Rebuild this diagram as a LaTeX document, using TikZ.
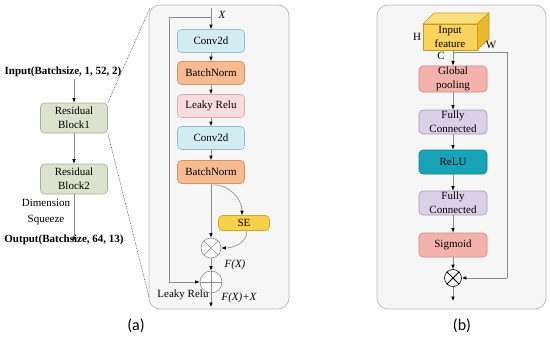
\documentclass[tikz,border=0pt]{standalone}
\usepackage{fontspec}
\setmainfont{Liberation Serif}
\newfontfamily\capfont{Carlito}
\usetikzlibrary{arrows.meta,calc}
\definecolor{panelbg}{HTML}{F6F6F6}
\definecolor{panelbd}{HTML}{B8B8B8}
\definecolor{linegray}{HTML}{8A8A8A}
\definecolor{resfill}{HTML}{DCE2CD}
\definecolor{resbd}{HTML}{A7B08E}
\definecolor{convfill}{HTML}{D3ECF1}
\definecolor{convbd}{HTML}{8CC0CC}
\definecolor{bnfill}{HTML}{F7BB91}
\definecolor{bnbd}{HTML}{D8925E}
\definecolor{lrfill}{HTML}{F8DCDD}
\definecolor{lrbd}{HTML}{D8AEB1}
\definecolor{sefill}{HTML}{F8D14A}
\definecolor{sebd}{HTML}{D7A81E}
\definecolor{gpfill}{HTML}{F4B2AC}
\definecolor{gpbd}{HTML}{CF8C86}
\definecolor{fcfill}{HTML}{DAD0E7}
\definecolor{fcbd}{HTML}{A99BB9}
\definecolor{relufill}{HTML}{17A3B8}
\definecolor{relubd}{HTML}{10808F}
\definecolor{cubefront}{HTML}{F9D35C}
\definecolor{cubetop}{HTML}{FBDF7C}
\definecolor{cubeside}{HTML}{EAB92E}
\definecolor{cubebd}{HTML}{C99A1A}
\begin{document}
\begin{tikzpicture}[x=1pt,y=-1pt,
  font=\fontsize{11}{14}\selectfont,
  blk/.style={draw, rounded corners=4pt, minimum width=67pt, minimum height=23pt, inner sep=1pt, align=center, line width=0.6pt},
  arr/.style={draw=linegray, line width=0.6pt, -{Latex[length=4.5pt,width=3.5pt,color=black]}},
  ln/.style={draw=linegray, line width=0.6pt},
  panel/.style={fill=panelbg, draw=panelbd, line width=0.7pt, rounded corners=11pt},
  opnode/.style={circle, draw=#1, fill=white, inner sep=0pt, line width=0.6pt},
  txt/.style={inner sep=0pt},
  dotln/.style={draw=black!80, densely dotted, line width=0.6pt}
]
\useasboundingbox (0,0) rectangle (550,340);

% ---------- panel (a) left column
\node[txt, font=\fontsize{11}{14}\selectfont\bfseries] (inp) at (63,72) {Input(Batchsize, 1, 52, 2)};
\node[blk, fill=resfill, draw=resbd, minimum height=30pt] (rb1) at (74,118) {Residual\\Block1};
\node[blk, fill=resfill, draw=resbd, minimum height=30pt] (rb2) at (74,179) {Residual\\Block2};
\node[txt, align=center, font=\fontsize{11}{16}\selectfont] (dim) at (46,212) {Dimension\\Squeeze};
\node[txt, font=\fontsize{11}{14}\selectfont\bfseries] (outp) at (64,240) {Output(Batchsize, 64, 13)};
\draw[arr] (inp.south -| rb1.north) ++(0,2) coordinate (i0) -- (rb1.north);
\draw[arr] (rb1.south) -- (rb2.north);
\draw[arr] (rb2.south) -- (rb2.south |- outp.north) ++(0,0);

% ---------- panel (a) detail
\draw[panel] (149,5) rectangle (289,309);
\coordinate (pa-tl) at (150,8);
\coordinate (pa-bl) at (149,297);
\draw[dotln] (rb1.north east) -- (pa-tl);
\draw[dotln] (rb1.south east) -- (pa-bl);

\node[blk, fill=convfill, draw=convbd] (c1) at (211,41) {Conv2d};
\node[blk, fill=bnfill, draw=bnbd] (b1) at (211,73) {BatchNorm};
\node[blk, fill=lrfill, draw=lrbd] (l1) at (211,106) {Leaky Relu};
\node[blk, fill=convfill, draw=convbd] (c2) at (211,138) {Conv2d};
\node[blk, fill=bnfill, draw=bnbd] (b2) at (211,172) {BatchNorm};
\node[blk, fill=sefill, draw=sebd, minimum width=51pt, minimum height=15pt] (se) at (244,223) {SE};
\node[opnode=black!45, minimum size=20pt] (tm) at (211,248) {};
\draw[black!45, line width=0.6pt] (tm.north west) -- (tm.south east) (tm.north east) -- (tm.south west);
\node[opnode=black!45, minimum size=22pt] (pl) at (211,282) {};
\draw[black!45, line width=0.6pt] (pl.north) -- (pl.south) (pl.west) -- (pl.east);

\coordinate (xin) at (211,8);
\coordinate (br) at (211,17);
\coordinate (sk1) at (169,17);
\coordinate (sk2) at (169,282);
\coordinate (aout) at (211,307);
\node[txt, font=\fontsize{11}{14}\selectfont\itshape] (xl) at (222,15) {X};
\draw[arr] (xin) -- (c1.north);
\draw[ln] (br) -- (sk1) -- (sk2);
\draw[arr] (sk2) -- (pl.west);
\draw[arr] (c1.south) -- (b1.north);
\draw[arr] (b1.south) -- (l1.north);
\draw[arr] (l1.south) -- (c2.north);
\draw[arr] (c2.south) -- (b2.north);
\draw[arr] (b2.south) -- (tm.north);
\draw[arr] ($(b2.south)+(2,1)$) to[out=0,in=90] ($(se.north)+(-2,0)$);
\draw[arr] ($(se.south)+(3,0)$) to[out=270,in=0] (tm.east);
\draw[arr] (tm.south) -- (pl.north);
\draw[arr] (pl.south) -- (aout);
\node[txt, font=\fontsize{11}{14}\selectfont\itshape] (fx) at (235,265) {F(X)};
\node[txt, font=\fontsize{11}{14}\selectfont\itshape] (fxx) at (239,298) {F(X)+X};
\node[txt] (lrl) at (183,295) {Leaky Relu};
\node[txt, font=\capfont\fontsize{16}{18}\selectfont] (la) at (136,326) {(a)};

% ---------- panel (b)
\draw[panel] (377,5) rectangle (546,309);
\filldraw[fill=cubetop, draw=cubebd, line width=0.6pt] (423,24) -- (434,13) -- (489,13) -- (477,24) -- cycle;
\filldraw[fill=cubeside, draw=cubebd, line width=0.6pt] (477,24) -- (489,13) -- (489,39) -- (477,50) -- cycle;
\filldraw[fill=cubefront, draw=cubebd, line width=0.6pt] (423,24) rectangle (477,50);
\node[txt, align=center, font=\fontsize{11}{14}\selectfont] (cube) at (450,37) {Input\\feature};
\node[txt] (hl) at (417,37) {H};
\node[txt] (wl) at (491,45) {W};
\node[txt] (cl) at (441,56) {C};

\node[blk, fill=gpfill, draw=gpbd, minimum width=68pt, minimum height=26pt] (gp) at (453,79) {Global\\pooling};
\node[blk, fill=fcfill, draw=fcbd, minimum width=68pt, minimum height=24pt] (fc1) at (453,122) {Fully\\Connected};
\node[blk, fill=relufill, draw=relubd, minimum width=68pt, minimum height=24pt] (relu) at (453,162) {ReLU};
\node[blk, fill=fcfill, draw=fcbd, minimum width=68pt, minimum height=24pt] (fc2) at (453,203) {Fully\\Connected};
\node[blk, fill=gpfill, draw=gpbd, minimum width=68pt, minimum height=24pt] (sig) at (453,245) {Sigmoid};
\node[opnode=black, minimum size=17pt] (tb) at (453,278) {};
\draw[black, line width=0.8pt] (tb.north west) -- (tb.south east) (tb.north east) -- (tb.south west);

\coordinate (cb) at (453,50);
\coordinate (s1) at (453,52);
\coordinate (s2) at (507,52);
\coordinate (s3) at (507,278);
\coordinate (bout) at (453,301);
\draw[arr] (cb) -- (gp.north);
\draw[ln] (s1) -- (s2) -- (s3);
\draw[arr] (s3) -- (tb.east);
\draw[arr] (gp.south) -- (fc1.north);
\draw[arr] (fc1.south) -- (relu.north);
\draw[arr] (relu.south) -- (fc2.north);
\draw[arr] (fc2.south) -- (sig.north);
\draw[arr] (sig.south) -- (tb.north);
\draw[arr] (tb.south) -- (bout);
\node[txt, font=\capfont\fontsize{16}{18}\selectfont] (lb) at (462,326) {(b)};
\end{tikzpicture}
\end{document}
